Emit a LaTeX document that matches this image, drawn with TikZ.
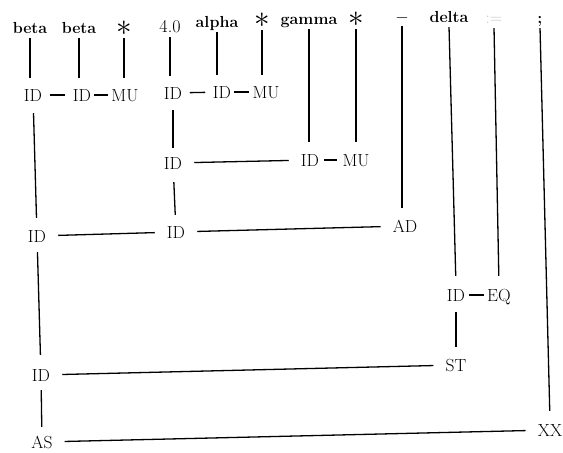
\documentclass[tikz,border=0pt]{standalone}
\usepackage{fontspec}
\usepackage{tikz}
\usetikzlibrary{positioning}

\newcommand{\bigstar}{\raisebox{-2pt}{\scalebox{1.8}{$\ast$}}}

\tikzset{
  tok/.style={font=\fontsize{16}{19}\selectfont\bfseries, anchor=base,
              inner sep=3pt, text height=11pt, text depth=1pt},
  nd/.style={font=\fontsize{17.5}{21}\selectfont, inner sep=3pt,
             text height=12pt, text depth=0pt},
  link/.style={line width=1.3pt},
  down/.style={link, shorten <=1pt, shorten >=#1},
  down/.default=8pt,
  join/.style={link, shorten <=#1, shorten >=#1},
  join/.default=0pt,
  far/.style={link, shorten <=9pt, shorten >=9pt},
}

\begin{document}
\begin{tikzpicture}[x=1pt, y=-1pt]
  \useasboundingbox (0,0) rectangle (563,453);

  % tokens of the statement
  \node[tok] (tBetaA)  at (30,33)  {beta};
  \node[tok] (tBetaB)  at (79,33)  {beta};
  \node[tok] (tStarA)  at (124,33) {\bigstar};
  \node[tok, font=\fontsize{18}{20}\selectfont] (tFour) at (170,32) {4.0};
  \node[tok] (tAlpha)  at (217,27) {alpha};
  \node[tok] (tStarB)  at (262,25) {\bigstar};
  \node[tok] (tGamma)  at (309,24) {gamma};
  \node[tok] (tStarC)  at (356,24) {\bigstar};
  \node[tok, font=\fontsize{16}{19}\selectfont, text depth=-3pt] (tMinus) at (402,22) {$-$};
  \node[tok] (tDelta)  at (449,22) {delta};
  \node[tok, font=\fontsize{16}{19}\selectfont, text=black!22] (tAssign) at (494,23) {$:=$};
  \node[tok] (tSemi)   at (540,23) {;};

  % reductions
  \node[nd] (idA) at (33,95)   {ID};
  \node[nd] (idB) at (82,95)   {ID};
  \node[nd] (muA) at (125,95)  {MU};
  \node[nd] (idC) at (173,93)  {ID};
  \node[nd] (idD) at (222,92)  {ID};
  \node[nd] (muB) at (266,92)  {MU};
  \node[nd] (idE) at (173,163) {ID};
  \node[nd] (idF) at (310,160) {ID};
  \node[nd] (muC) at (356,160) {MU};
  \node[nd] (idG) at (37,236)  {ID};
  \node[nd] (idH) at (176,232) {ID};
  \node[nd] (ad)  at (405,226) {AD};
  \node[nd] (idI) at (456,295) {ID};
  \node[nd] (eq)  at (499,295) {EQ};
  \node[nd] (idJ) at (41,375)  {ID};
  \node[nd] (st)  at (456,365) {ST};
  \node[nd] (as)  at (42,442)  {AS};
  \node[nd] (xx)  at (550,430) {XX};

  % token to node
  \draw[down] (tBetaA.south) -- (tBetaA |- idA.north);
  \draw[down] (tBetaB.south) -- (tBetaB |- idB.north);
  \draw[down] (tStarA.south) -- (tStarA |- muA.north);
  \draw[down] (tFour.south) -- (tFour |- idC.north);
  \draw[down] (tAlpha.south) -- (tAlpha |- idD.north);
  \draw[down] (tStarB.south) -- (tStarB |- muB.north);
  \draw[down=9pt] (tGamma.south) -- (tGamma |- idF.north);
  \draw[down=9pt] (tStarC.south) -- (tStarC |- muC.north);
  \draw[down=9pt] (tMinus.south) -- (tMinus |- ad.north);
  \draw[down=10pt] (tDelta.south) -- (idI.north);
  \draw[down=10pt] (tAssign.south) -- (eq.north);
  \draw[down=10pt] (tSemi.south) -- (xx.north);

  % short joins
  \draw[join=4.5pt] (idA) -- (idB);
  \draw[join] (idB) -- (muA);
  \draw[join=4.5pt] (idC) -- (idD);
  \draw[join] (idD) -- (muB);
  \draw[join=2pt] (idF) -- (muC);
  \draw[join=0.5pt] (idI) -- (eq);

  % long joins
  \draw[far] (idE) -- (idF);
  \draw[far] (idG) -- (idH);
  \draw[far] (idH) -- (ad);
  \draw[far] (idJ) -- (st);
  \draw[far] (as) -- (xx);

  % downward
  \draw[link, shorten <=9pt, shorten >=9pt] (idA) -- (idG);
  \draw[link, shorten <=8pt, shorten >=6pt] (idC) -- (idE);
  \draw[link, shorten <=10pt, shorten >=8pt] (idE) -- (idH);
  \draw[link, shorten <=7pt, shorten >=11pt] (idG) -- (idJ);
  \draw[link, shorten <=8pt, shorten >=9pt] (idI) -- (st);
  \draw[link, shorten <=6pt, shorten >=6pt] (idJ) -- (as);
\end{tikzpicture}
\end{document}
